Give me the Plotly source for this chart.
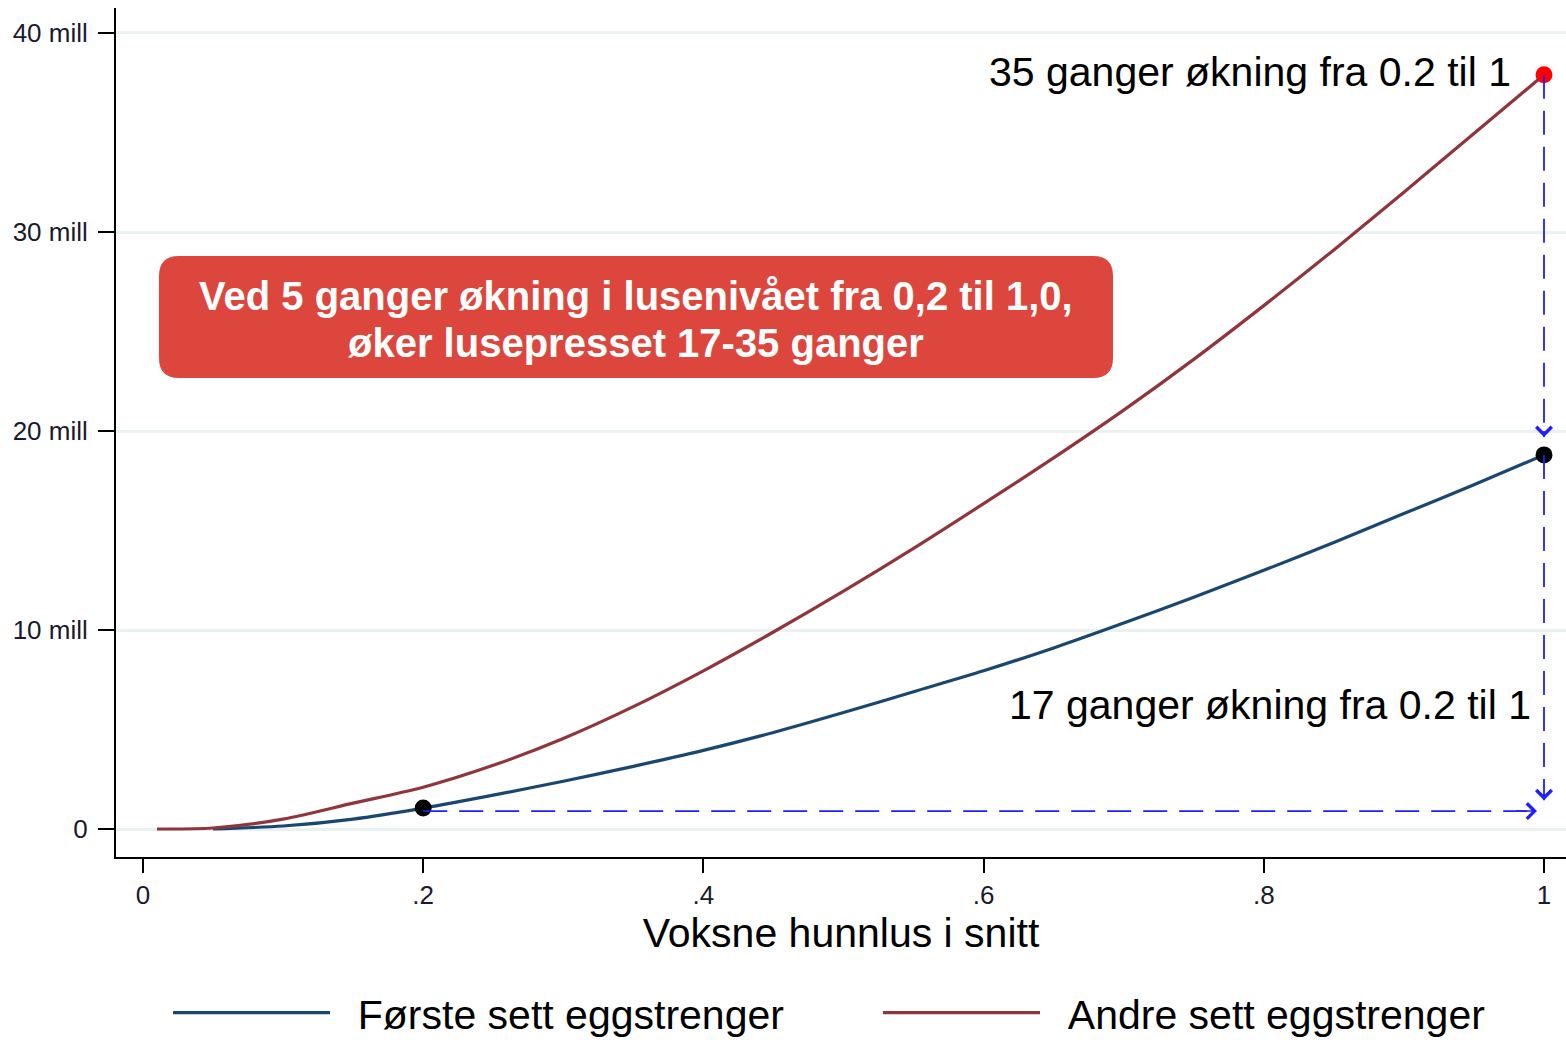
import plotly.graph_objects as go

# ---- data (values in millions) ----
x_andre = [0.01, 0.05, 0.10, 0.15, 0.20, 0.25, 0.30, 0.35, 0.40, 0.45, 0.50,
           0.55, 0.60, 0.65, 0.70, 0.75, 0.80, 0.85, 0.90, 0.95, 1.00]
y_andre = [0.0, 0.05, 0.5, 1.3, 2.1, 3.2, 4.55, 6.15, 7.95, 9.9, 11.95,
           14.1, 16.35, 18.65, 21.05, 23.6, 26.3, 29.1, 32.0, 34.95, 37.9]

x_forste = [0.05, 0.10, 0.15, 0.20, 0.25, 0.30, 0.35, 0.40, 0.45, 0.50,
            0.55, 0.60, 0.65, 0.70, 0.75, 0.80, 0.85, 0.90, 0.95, 1.00]
y_forste = [0.0, 0.15, 0.5, 1.05, 1.7, 2.4, 3.15, 3.95, 4.85, 5.85,
            6.9, 7.95, 9.1, 10.35, 11.65, 13.0, 14.4, 15.85, 17.3, 18.8]

# highlighted points
pts_black_x = [0.2, 1.0]
pts_black_y = [1.05, 18.8]
pts_red_x = [1.0]
pts_red_y = [37.9]

# dashed guide paths (start -> arrow tip)
guide_h_x = [0.2, 0.995]
guide_h_y = [0.9, 0.9]
guide_v1_x = [1.0, 1.0]
guide_v1_y = [37.9, 19.7]
guide_v2_x = [1.0, 1.0]
guide_v2_y = [18.8, 1.45]

y_ticks = [0, 10, 20, 30, 40]
y_ticktext = ["0", "10 mill", "20 mill", "30 mill", "40 mill"]
x_ticks = [0, 0.2, 0.4, 0.6, 0.8, 1.0]
x_ticktext = ["0", ".2", ".4", ".6", ".8", "1"]

names = ["Første sett eggstrenger", "Andre sett eggstrenger"]
note_top = "35 ganger økning fra 0.2 til 1"
note_bottom = "17 ganger økning fra 0.2 til 1"
box_lines = ["Ved 5 ganger økning i lusenivået fra 0,2 til 1,0,",
             "øker lusepresset 17-35 ganger"]
x_title = "Voksne hunnlus i snitt"

FONT = "Arial, Liberation Sans, sans-serif"
BLUE = "#1a476f"
RED = "#90353b"
GUIDE = "#1f1fff"
BOX = "#dc463c"
PAD = "\u00a0\u00a0"

fig = go.Figure()
fig.add_trace(go.Scatter(x=x_forste, y=y_forste, mode="lines", name=PAD + names[0],
                         line=dict(color=BLUE, width=3.2, shape="spline", smoothing=0.8)))
fig.add_trace(go.Scatter(x=x_andre, y=y_andre, mode="lines", name=PAD + names[1],
                         line=dict(color=RED, width=3.2, shape="spline", smoothing=0.8)))
fig.add_trace(go.Scatter(x=pts_black_x, y=pts_black_y, mode="markers", showlegend=False,
                         marker=dict(color="black", size=17)))
fig.add_trace(go.Scatter(x=pts_red_x, y=pts_red_y, mode="markers", showlegend=False,
                         marker=dict(color="#ff0000", size=17)))
for gx, gy in [(guide_h_x, guide_h_y), (guide_v1_x, guide_v1_y), (guide_v2_x, guide_v2_y)]:
    fig.add_trace(go.Scatter(x=gx, y=gy, mode="lines", showlegend=False,
                             line=dict(color=GUIDE, width=1.8, dash="24px,12px")))
    # arrow head at the tip
    fig.add_annotation(x=gx[1], y=gy[1], ax=gx[1] - (gx[1] - gx[0]) * 0.02,
                       ay=gy[1] - (gy[1] - gy[0]) * 0.02, axref="x", ayref="y",
                       xref="x", yref="y", text="", showarrow=True, arrowhead=4,
                       arrowsize=2.0, arrowwidth=1.5, arrowcolor=GUIDE)

# text notes
fig.add_annotation(x=0.978, y=38.05, xref="x", yref="y", text=note_top, showarrow=False,
                   xanchor="right", yanchor="middle", font=dict(family=FONT, size=41, color="black"))
fig.add_annotation(x=0.992, y=6.23, xref="x", yref="y", text=note_bottom, showarrow=False,
                   xanchor="right", yanchor="middle", font=dict(family=FONT, size=41, color="black"))

# rounded red box
L, R, T, B = 116, 1566, 8, 857
W, H = R - L, B - T
bx0, bx1 = (159 - L) / W, (1113 - L) / W
by0, by1 = (B - 378) / H, (B - 256) / H
rx, ry = 20 / W, 20 / H
path = (f"M{bx0+rx},{by0} L{bx1-rx},{by0} Q{bx1},{by0} {bx1},{by0+ry} "
        f"L{bx1},{by1-ry} Q{bx1},{by1} {bx1-rx},{by1} L{bx0+rx},{by1} "
        f"Q{bx0},{by1} {bx0},{by1-ry} L{bx0},{by0+ry} Q{bx0},{by0} {bx0+rx},{by0} Z")
fig.add_shape(type="path", path=path, xref="paper", yref="paper",
              fillcolor=BOX, line=dict(width=0), layer="above")
for line_text, ypix in zip(box_lines, [296, 343]):
    fig.add_annotation(x=(bx0 + bx1) / 2, y=(B - ypix) / H, xref="paper", yref="paper",
                       text="<b>" + line_text + "</b>", showarrow=False,
                       xanchor="center", yanchor="middle",
                       font=dict(family=FONT, size=40, color="white"))

fig.update_layout(
    width=1566, height=1040,
    margin=dict(l=L, r=1566 - R, t=T, b=1040 - B, autoexpand=False),
    paper_bgcolor="white", plot_bgcolor="white",
    font=dict(family=FONT, color="black"),
    showlegend=True,
    legend=dict(orientation="h", xref="container", yref="container",
                x=168 / 1566, xanchor="left", y=(1040 - 1013) / 1040, yanchor="middle",
                font=dict(family=FONT, size=41, color="black"),
                itemwidth=157, entrywidth=538, entrywidthmode="pixels",
                bgcolor="rgba(0,0,0,0)"),
)
fig.update_xaxes(range=[-0.01927, 1.0157], tickvals=x_ticks, ticktext=x_ticktext,
                 showgrid=False, zeroline=False, showline=True, linecolor="black", linewidth=2,
                 ticks="outside", ticklen=14, tickwidth=2, tickcolor="black", automargin=False,
                 tickfont=dict(family=FONT, size=26, color="#1a1a2e"),
                 title=dict(text=x_title, font=dict(family=FONT, size=41, color="black"), standoff=1))
fig.update_yaxes(range=[-1.407, 41.256], tickvals=y_ticks, ticktext=y_ticktext,
                 showgrid=True, gridcolor="#e9f1f2", gridwidth=3, zeroline=False,
                 showline=True, linecolor="black", linewidth=2, automargin=False,
                 ticks="outside", ticklen=16, tickwidth=2, tickcolor="black",
                 ticklabelstandoff=5,
                 tickfont=dict(family=FONT, size=26, color="#1a1a2e"))

fig.write_html("out.html", config={"displayModeBar": False},
               post_script="document.body.style.margin='0';document.body.style.overflow='hidden';")
